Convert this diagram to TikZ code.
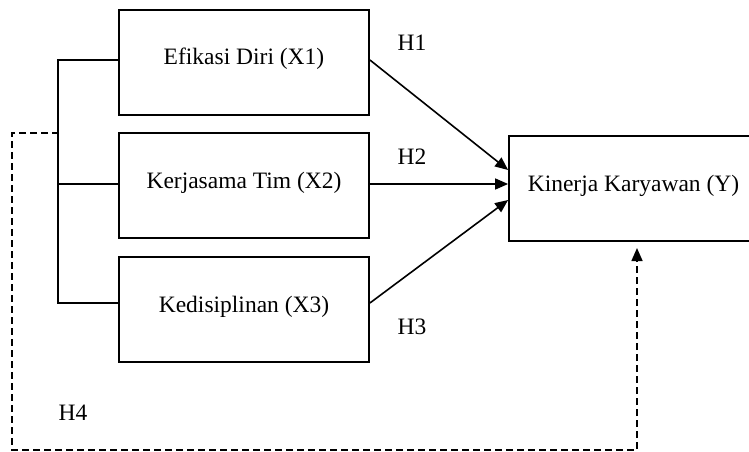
\documentclass[tikz,border=0pt]{standalone}
\usepackage{fontspec}
\setmainfont{Liberation Serif}
\usetikzlibrary{arrows.meta}
\tikzstyle{varbox}=[draw, line width=1.8pt, minimum width=250pt, minimum height=105pt,
    inner sep=0pt, text height=16pt, text depth=11pt, font=\fontsize{23.5}{28}\selectfont]
\tikzstyle{hlabel}=[inner sep=0pt, font=\fontsize{23.5}{28}\selectfont]
\tikzstyle{link}=[line width=1.6pt]
\tikzstyle{effect}=[link, -{Triangle[length=13pt, width=11pt]}]

\begin{document}
\begin{tikzpicture}[x=1pt, y=-1pt]
    \clip (0,0) rectangle (749,452);
% Variables
    \node[varbox] (x1) at (244,62.5) {Efikasi Diri (X1)};
    \node[varbox] (x2) at (244,185.5) {Kerjasama Tim (X2)};
    \node[varbox] (x3) at (244,309.5) {Kedisiplinan (X3)};
    \node[varbox, minimum width=249pt] (y) at (633.5,188.5) {Kinerja Karyawan (Y)};
% Hypotheses
    \node[hlabel] (h1) at (412,43) {H1};
    \node[hlabel] (h2) at (412,157) {H2};
    \node[hlabel] (h3) at (412,327) {H3};
    \node[hlabel] (h4) at (73,413) {H4};
% Bracket joining X1, X2, X3
    \draw[link] ([yshift=2.5pt]x1.west) -- ++(-60,0) |- ([yshift=6.5pt]x3.west);
    \draw[link] ([yshift=1.5pt]x2.west) -- ++(-60,0);
% Partial effects
    \draw[effect] ([yshift=2.5pt]x1.east) -- ([yshift=18.5pt]y.west);
    \draw[effect] ([yshift=1.5pt]x2.east) -- ([yshift=4.5pt]y.west);
    \draw[effect] ([yshift=6.5pt]x3.east) -- ([yshift=-11.5pt]y.west);
% Simultaneous effect
    \coordinate (h4start) at (59,133);
    \coordinate (h4end) at (637,248);
    \draw[effect, dash pattern=on 7pt off 4pt] (h4start) -- (12,133) -- (12,450) -| (h4end);
\end{tikzpicture}
\end{document}
